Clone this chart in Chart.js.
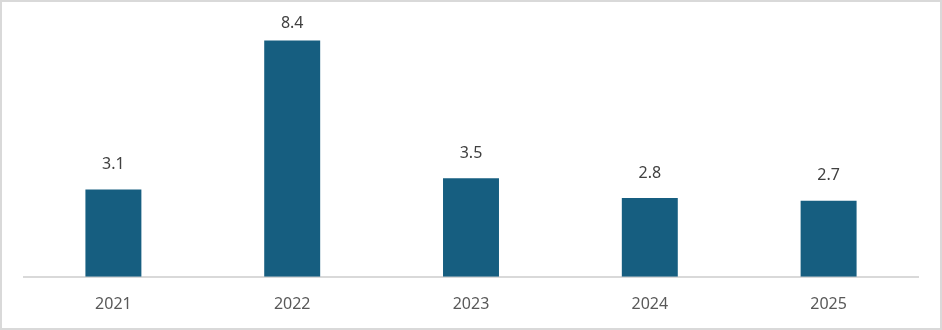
<!DOCTYPE html>
<html lang="en">
<head>
    <meta charset="UTF-8">
    <title>Yearly Values</title>
    <style>
        html, body { margin: 0; padding: 0; background: #fff; }
        .chart_box { position: relative; width: 942px; height: 330px; }
        .chart_box::after {
            content: ''; position: absolute; left: 0; top: 0; right: 0; bottom: 0;
            border: 2px solid #d9d9d9; pointer-events: none;
        }
        canvas { display: block; }
    </style>
</head>
<body>
    <div class="chart_box">
        <canvas id="my_chart" width="942" height="330"></canvas>
    </div>

    <script src="https://cdn.jsdelivr.net/npm/chart.js"></script>
    <script>
    const years = ['2021', '2022', '2023', '2024', '2025'];
    const values = [3.1, 8.4, 3.5, 2.8, 2.7];

    // value labels above each bar
    const valueLabels = {
        id: 'valueLabels',
        afterDatasetsDraw(chart) {
            const ctx = chart.ctx;
            ctx.save();
            ctx.font = '16px "Noto Sans"';
            ctx.fillStyle = '#404040';
            ctx.textAlign = 'center';
            ctx.textBaseline = 'bottom';
            chart.getDatasetMeta(0).data.forEach((bar, i) => {
                const y = Math.max(bar.y - 17, 31);
                ctx.fillText(values[i].toFixed(1), bar.x, y);
            });
            ctx.restore();
        }
    };

    new Chart(document.getElementById('my_chart'), {
        type: 'bar',
        data: {
            labels: years,
            datasets: [{
                data: values,
                backgroundColor: '#165e80',
                barPercentage: 0.313,
                categoryPercentage: 1
            }]
        },
        options: {
            responsive: false,
            animation: false,
            layout: { padding: { left: 24, right: 24, top: 25, bottom: 6 } },
            plugins: { legend: { display: false }, tooltip: { enabled: false } },
            scales: {
                x: {
                    grid: { display: false },
                    border: { color: '#d9d9d9', width: 2 },
                    ticks: { color: '#595959', font: { family: 'Noto Sans', size: 16 }, padding: 10 }
                },
                y: { display: false, min: 0, max: 8.95 }
            }
        },
        plugins: [valueLabels]
    });
    </script>
</body>
</html>
